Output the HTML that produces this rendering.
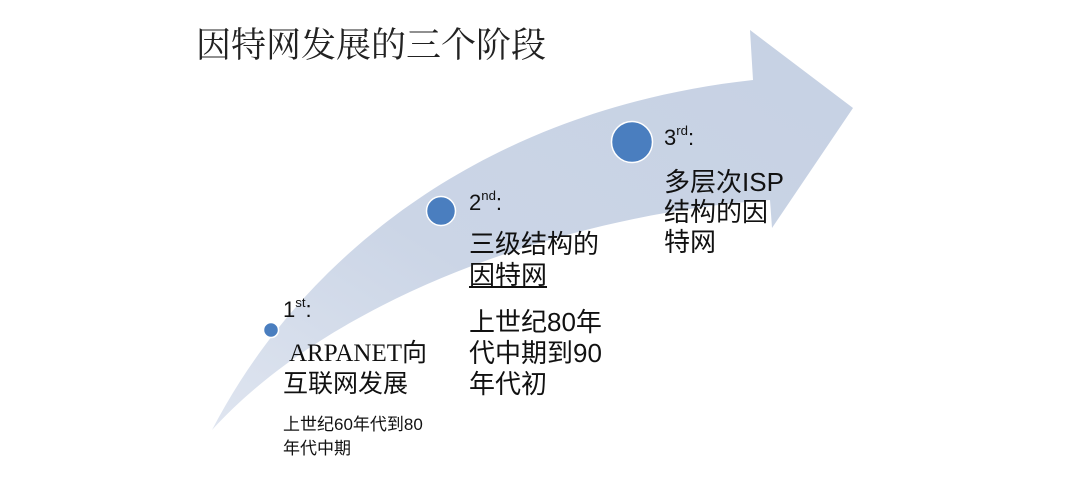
<!DOCTYPE html>
<html><head><meta charset="utf-8"><style>
html,body{margin:0;padding:0;background:#fff;}
body{width:1075px;height:478px;position:relative;overflow:hidden;font-family:"Liberation Sans","Noto Sans CJK SC",sans-serif;color:#111;}
.t{position:absolute;white-space:nowrap;}
sup{font-size:60%;vertical-align:top;position:relative;top:-2px;}
</style></head><body>
<svg width="1075" height="478" style="position:absolute;left:0;top:0">
<defs><linearGradient id="g" x1="0" y1="1" x2="1" y2="0"><stop offset="0" stop-color="#dfe5f0"/><stop offset="0.4" stop-color="#cbd5e6"/><stop offset="1" stop-color="#c6d1e3"/></linearGradient></defs>
<path d="M212,430 C300,260 480,110 753,80 L750,30 L853,108 L772,228 L770,200 C560,215 330,300 212,430 Z" fill="url(#g)"/>
<circle cx="271" cy="330" r="7.5" fill="#4a7ebf" stroke="#fff" stroke-width="1.5"/>
<circle cx="441" cy="211" r="14.5" fill="#4a7ebf" stroke="#fff" stroke-width="1.5"/>
<circle cx="632" cy="142" r="20.5" fill="#4a7ebf" stroke="#fff" stroke-width="1.5"/>
</svg>
<div class="t" style="left:196px;top:18px;font-size:35px;font-family:'Liberation Serif','Noto Serif CJK SC',serif;color:#222;">因特网发展的三个阶段</div>
<div class="t" style="left:283px;top:297px;font-size:22px;">1<sup>st</sup>:</div>
<div class="t" style="left:289px;top:339px;font-size:25px;font-family:'Liberation Serif','Noto Sans CJK SC',serif;line-height:30px;">ARPANET向</div>
<div class="t" style="left:283px;top:369px;font-size:25px;line-height:30px;">互联网发展</div>
<div class="t" style="left:283px;top:413px;font-size:17px;line-height:24px;">上世纪60年代到80<br>年代中期</div>
<div class="t" style="left:469px;top:190px;font-size:22px;">2<sup>nd</sup>:</div>
<div class="t" style="left:469px;top:229px;font-size:26px;line-height:31px;">三级结构的<br><span style="text-decoration:underline">因特网</span></div>
<div class="t" style="left:469px;top:307px;font-size:26px;line-height:31px;">上世纪80年<br>代中期到90<br>年代初</div>
<div class="t" style="left:664px;top:125px;font-size:22px;">3<sup>rd</sup>:</div>
<div class="t" style="left:664px;top:167px;font-size:26px;line-height:30px;">多层次ISP<br>结构的因<br>特网</div>
</body></html>
